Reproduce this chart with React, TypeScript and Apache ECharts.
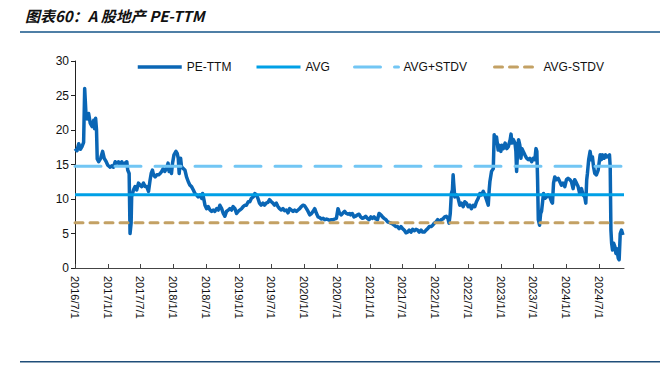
import { useEffect, useRef } from 'react';
import * as echarts from 'echarts';

const seriesNames = ['PE-TTM', 'AVG', 'AVG+STDV', 'AVG-STDV'];
const xTickLabels = [
  '2016/7/1', '2017/1/1', '2017/7/1', '2018/1/1', '2018/7/1', '2019/1/1', '2019/7/1',
  '2020/1/1', '2020/7/1', '2021/1/1', '2021/7/1', '2022/1/1', '2022/7/1', '2023/1/1',
  '2023/7/1', '2024/1/1', '2024/7/1',
];
const xStart = '2016-07-01';
const xEnd = '2024-11-18';
const yTickMax = 30;
const yTickStep = 5;

const avgValue = 10.6;
const avgPlusStdv = 14.75;
const avgMinusStdv = 6.55;

const dates = [
  '2016-07-01','2016-07-12','2016-07-22','2016-07-31','2016-08-09','2016-08-18','2016-08-24','2016-08-31',
  '2016-09-06','2016-09-15','2016-09-24','2016-10-04','2016-10-13','2016-10-18','2016-10-24','2016-10-29',
  '2016-11-02','2016-11-10','2016-11-21','2016-12-02','2016-12-11','2016-12-22','2016-12-31','2017-01-13',
  '2017-01-22','2017-01-31','2017-02-10','2017-02-19','2017-02-28','2017-03-09','2017-03-19','2017-03-28',
  '2017-04-06','2017-04-16','2017-04-21','2017-04-29','2017-05-04','2017-05-10','2017-05-13','2017-05-23',
  '2017-06-01','2017-06-10','2017-06-20','2017-06-29','2017-07-08','2017-07-18','2017-07-27','2017-08-05',
  '2017-08-15','2017-08-24','2017-08-30','2017-09-06','2017-09-12','2017-09-21','2017-09-30','2017-10-10',
  '2017-10-19','2017-10-28','2017-11-05','2017-11-14','2017-11-23','2017-12-02','2017-12-08','2017-12-15',
  '2017-12-21','2017-12-27','2018-01-04','2018-01-15','2018-01-22','2018-01-28','2018-02-02','2018-02-10',
  '2018-02-15','2018-02-25','2018-03-06','2018-03-15','2018-03-25','2018-04-03','2018-04-12','2018-04-22',
  '2018-05-01','2018-05-10','2018-05-19','2018-05-29','2018-06-07','2018-06-13','2018-06-20','2018-06-26',
  '2018-07-05','2018-07-14','2018-07-24','2018-08-02','2018-08-11','2018-08-20','2018-08-30','2018-09-08',
  '2018-09-17','2018-09-27','2018-10-06','2018-10-15','2018-10-24','2018-11-03','2018-11-12','2018-11-21',
  '2018-11-30','2018-12-10','2018-12-19','2018-12-28','2019-01-06','2019-01-16','2019-01-25','2019-02-03',
  '2019-02-12','2019-02-22','2019-03-03','2019-03-12','2019-03-22','2019-03-31','2019-04-08','2019-04-17',
  '2019-04-26','2019-05-05','2019-05-15','2019-05-24','2019-06-02','2019-06-12','2019-06-21','2019-07-01',
  '2019-07-10','2019-07-19','2019-07-29','2019-08-07','2019-08-16','2019-08-26','2019-09-04','2019-09-13',
  '2019-09-23','2019-10-02','2019-10-11','2019-10-21','2019-10-30','2019-11-08','2019-11-18','2019-11-27',
  '2019-12-06','2019-12-15','2019-12-25','2020-01-03','2020-01-13','2020-01-22','2020-01-31','2020-02-10',
  '2020-02-19','2020-02-28','2020-03-09','2020-03-18','2020-03-27','2020-04-06','2020-04-15','2020-04-24',
  '2020-05-04','2020-05-13','2020-05-22','2020-05-31','2020-06-10','2020-06-19','2020-06-28','2020-07-07',
  '2020-07-16','2020-07-25','2020-08-04','2020-08-13','2020-08-22','2020-09-01','2020-09-10','2020-09-15',
  '2020-09-25','2020-10-04','2020-10-13','2020-10-23','2020-11-01','2020-11-10','2020-11-20','2020-11-29',
  '2020-12-08','2020-12-18','2020-12-27','2021-01-06','2021-01-15','2021-01-24','2021-02-03','2021-02-12',
  '2021-02-21','2021-03-03','2021-03-12','2021-03-21','2021-03-31','2021-04-09','2021-04-18','2021-04-28',
  '2021-05-07','2021-05-16','2021-05-26','2021-06-04','2021-06-13','2021-06-23','2021-07-02','2021-07-11',
  '2021-07-21','2021-07-30','2021-08-08','2021-08-18','2021-08-27','2021-09-05','2021-09-15','2021-09-24',
  '2021-10-03','2021-10-13','2021-10-22','2021-10-31','2021-11-10','2021-11-19','2021-11-28','2021-12-08',
  '2021-12-17','2021-12-26','2022-01-05','2022-01-14','2022-01-25','2022-02-03','2022-02-12','2022-02-22',
  '2022-03-03','2022-03-12','2022-03-18','2022-03-25','2022-03-31','2022-04-06','2022-04-10','2022-04-13',
  '2022-04-19','2022-04-28','2022-05-08','2022-05-17','2022-05-26','2022-06-05','2022-06-14','2022-06-23',
  '2022-07-03','2022-07-12','2022-07-21','2022-07-31','2022-08-09','2022-08-18','2022-08-28','2022-09-06',
  '2022-09-15','2022-09-25','2022-10-04','2022-10-13','2022-10-23','2022-10-28','2022-11-01','2022-11-10',
  '2022-11-20','2022-11-25','2022-12-03','2022-12-08','2022-12-17','2022-12-23','2023-01-01','2023-01-06',
  '2023-01-15','2023-01-25','2023-02-03','2023-02-12','2023-02-22','2023-02-27','2023-03-04','2023-03-12',
  '2023-03-21','2023-03-26','2023-03-30','2023-04-04','2023-04-10','2023-04-17','2023-04-23','2023-04-29',
  '2023-05-06','2023-05-15','2023-05-25','2023-06-03','2023-06-12','2023-06-22','2023-07-01','2023-07-10',
  '2023-07-16','2023-07-21','2023-07-25','2023-07-29','2023-08-05','2023-08-11','2023-08-16','2023-08-22',
  '2023-08-27','2023-09-04','2023-09-13','2023-09-22','2023-10-01','2023-10-11','2023-10-16','2023-10-22',
  '2023-10-29','2023-11-07','2023-11-17','2023-11-26','2023-12-05','2023-12-14','2023-12-24','2024-01-02',
  '2024-01-11','2024-01-21','2024-01-30','2024-02-08','2024-02-17','2024-02-27','2024-03-07','2024-03-16',
  '2024-03-26','2024-04-04','2024-04-13','2024-04-19','2024-04-24','2024-04-28','2024-05-05','2024-05-13',
  '2024-05-20','2024-05-26','2024-06-01','2024-06-08','2024-06-17','2024-06-27','2024-07-02','2024-07-08',
  '2024-07-15','2024-07-21','2024-07-30','2024-08-07','2024-08-14','2024-08-22','2024-08-29','2024-09-02',
  '2024-09-06','2024-09-10','2024-09-15','2024-09-21','2024-09-28','2024-10-04','2024-10-09','2024-10-17',
  '2024-10-22','2024-10-28','2024-11-04','2024-11-12',
];

const peTtm = [
  17.3,17.0,18.0,17.2,17.6,18.2,26.0,22.4,
  21.6,22.4,21.0,20.5,21.4,20.2,21.7,20.0,
  15.8,15.4,15.9,16.9,15.9,15.4,14.9,14.6,
  14.8,14.6,15.4,15.2,15.4,14.9,15.4,14.9,
  15.2,15.4,14.2,13.7,5.0,6.5,10.3,11.3,
  11.8,11.3,12.3,12.0,11.8,12.3,11.8,11.8,
  11.1,12.8,13.7,14.2,13.5,13.2,13.5,13.5,
  13.7,14.0,14.4,14.0,14.4,15.2,14.0,14.7,
  13.7,15.2,16.4,16.9,16.6,15.9,13.7,15.9,
  14.7,14.4,14.2,13.2,12.5,12.0,11.8,11.3,
  10.8,10.6,10.3,10.6,10.1,10.8,9.9,9.1,
  8.6,8.9,8.4,8.2,8.4,8.2,8.6,8.4,
  9.1,8.6,7.9,7.5,8.2,8.4,8.6,8.4,
  8.9,8.6,7.9,8.2,8.4,8.6,8.9,9.1,
  9.1,9.6,9.6,10.1,10.3,10.8,10.6,10.1,
  9.4,9.1,9.4,9.1,9.4,9.5,9.9,9.6,
  9.4,9.1,9.4,8.9,8.6,8.4,8.6,8.3,
  8.4,8.0,8.6,8.4,8.2,8.4,8.2,8.4,
  8.6,8.9,9.1,9.0,8.6,8.2,7.7,7.9,
  8.2,8.6,7.9,7.4,7.3,7.1,7.2,7.0,
  7.1,7.0,6.9,7.0,7.0,7.1,7.2,8.6,
  7.9,7.7,8.0,8.2,7.9,7.8,7.9,7.7,
  7.9,7.4,7.5,7.7,7.8,7.4,7.2,7.3,
  7.5,7.2,7.0,7.4,7.2,7.4,7.1,7.0,
  7.9,7.7,7.4,7.2,7.0,6.7,6.6,6.5,
  6.4,6.2,6.0,6.0,5.7,6.0,5.7,5.5,
  5.1,5.2,5.5,5.2,5.6,5.4,5.6,5.5,
  5.2,5.5,5.2,5.2,5.5,5.7,6.0,6.0,
  6.2,6.5,6.7,7.0,6.7,7.0,7.1,7.4,
  7.5,7.2,6.5,7.9,10.8,11.3,13.5,12.3,
  10.3,10.6,10.1,9.1,9.4,8.9,9.6,9.4,
  8.9,9.1,8.6,9.1,8.9,9.6,10.1,10.8,
  10.6,11.1,10.6,9.9,9.1,11.3,12.5,14.0,
  14.4,19.3,18.3,19.0,17.1,17.8,16.9,17.8,
  17.3,18.1,17.3,17.6,18.6,19.4,18.1,18.6,
  18.1,16.9,14.0,16.6,18.6,17.8,15.9,17.3,
  16.9,16.4,15.9,15.7,15.9,15.4,15.9,15.7,
  17.3,16.9,12.8,7.0,6.2,7.9,8.2,9.6,
  10.8,10.1,10.3,10.6,10.3,9.6,9.4,12.3,
  13.2,12.8,13.0,12.5,12.0,12.3,11.8,12.8,
  13.0,12.8,12.5,11.5,12.8,12.3,11.8,10.8,
  11.5,10.6,10.3,9.4,12.8,13.7,15.7,16.9,
  15.7,16.1,14.7,13.7,13.5,14.2,15.2,16.4,
  15.7,16.4,15.9,16.4,16.1,16.2,16.4,14.7,
  5.5,3.6,2.6,3.6,3.1,2.1,2.8,1.4,
  1.2,5.0,5.5,4.8,
];

const toTs = (s: string) => {
  const p = s.split(/[-/]/).map(Number);
  return Date.UTC(p[0], p[1] - 1, p[2]);
};

export default function App() {
  const ref = useRef<HTMLDivElement>(null);
  useEffect(() => {
    if (!ref.current) return;
    const chart = echarts.init(ref.current, null, { renderer: 'svg' });
    const font = '"Liberation Sans", Arial, sans-serif';
    const tickTs = xTickLabels.map(toTs);
    const xMin = toTs(xStart);
    const xMax = toTs(xEnd);
    const lineOf = (v: number) => [[xMin, v], [xMax, v]];
    const labelFor = (v: number) => {
      let best = 0;
      for (let i = 1; i < tickTs.length; i++) {
        if (Math.abs(tickTs[i] - v) < Math.abs(tickTs[best] - v)) best = i;
      }
      return Math.abs(tickTs[best] - v) < 86400000 * 3 ? xTickLabels[best] : '';
    };
    const legendLefts = [136, 255, 353, 493];
    const legendWidths = [3.5, 3, 3, 3];
    chart.setOption({
      animation: false,
      backgroundColor: '#ffffff',
      grid: { left: 75, right: 42, top: 61, bottom: 104, containLabel: false },
      graphic: [
        {
          type: 'text',
          left: 25,
          top: 8,
          style: {
            text: '图表60：A 股地产 PE-TTM',
            font: 'italic bold 15px "Noto Sans CJK SC", sans-serif',
            fill: '#111',
          },
        },
        { type: 'rect', shape: { x: 20, y: 31, width: 640, height: 2 }, style: { fill: '#4f7fa6' } },
        { type: 'rect', shape: { x: 20, y: 361, width: 640, height: 1.5 }, style: { fill: '#1f4e79' } },
      ],
      legend: seriesNames.map((name, i) => ({
        data: [name],
        left: legendLefts[i],
        top: 61,
        padding: 0,
        itemGap: 0,
        itemWidth: 44,
        itemHeight: 12,
        itemStyle: { color: 'rgba(0,0,0,0)', borderColor: 'rgba(0,0,0,0)', borderWidth: 0, opacity: 0 },
        lineStyle: { width: legendWidths[i] },
        textStyle: { fontSize: 12, color: '#111', fontFamily: font },
      })),
      xAxis: {
        type: 'value',
        min: xMin,
        max: xMax,
        splitLine: { show: false },
        axisLine: { lineStyle: { color: '#444', width: 1 } },
        axisTick: { customValues: tickTs, inside: true, length: 4, lineStyle: { color: '#444' } },
        axisLabel: {
          customValues: tickTs,
          rotate: -90,
          margin: 8,
          fontSize: 11,
          color: '#111',
          fontFamily: font,
          formatter: (v: number) => labelFor(v),
        },
      },
      yAxis: {
        type: 'value',
        min: 0,
        max: yTickMax,
        interval: yTickStep,
        splitLine: { show: false },
        axisLine: { show: true, lineStyle: { color: '#222', width: 1 } },
        axisTick: { show: true, inside: false, length: 4, lineStyle: { color: '#222' } },
        axisLabel: { fontSize: 12, color: '#111', fontFamily: font, margin: 6 },
      },
      series: [
        {
          name: seriesNames[0],
          type: 'line',
          data: dates.map((d, i) => [toTs(d), peTtm[i]]),
          symbol: 'none',
          lineStyle: { color: '#0a66b5', width: 3.5, join: 'round' },
          itemStyle: { color: '#0a66b5' },
        },
        {
          name: seriesNames[1],
          type: 'line',
          data: lineOf(avgValue),
          symbol: 'none',
          lineStyle: { color: '#00a0e6', width: 3 },
          itemStyle: { color: '#00a0e6' },
        },
        {
          name: seriesNames[2],
          type: 'line',
          data: lineOf(avgPlusStdv),
          symbol: 'none',
          lineStyle: { color: '#72c6f4', width: 3, type: [26, 14], cap: 'round' },
          itemStyle: { color: '#72c6f4' },
        },
        {
          name: seriesNames[3],
          type: 'line',
          data: lineOf(avgMinusStdv),
          symbol: 'none',
          lineStyle: { color: '#c3a164', width: 3, type: [8, 7], cap: 'round' },
          itemStyle: { color: '#c3a164' },
        },
      ],
    });
    return () => chart.dispose();
  }, []);
  return (
    <div
      ref={ref}
      style={{ position: 'fixed', left: 0, top: 0, width: 666, height: 372, background: '#fff' }}
    />
  );
}
